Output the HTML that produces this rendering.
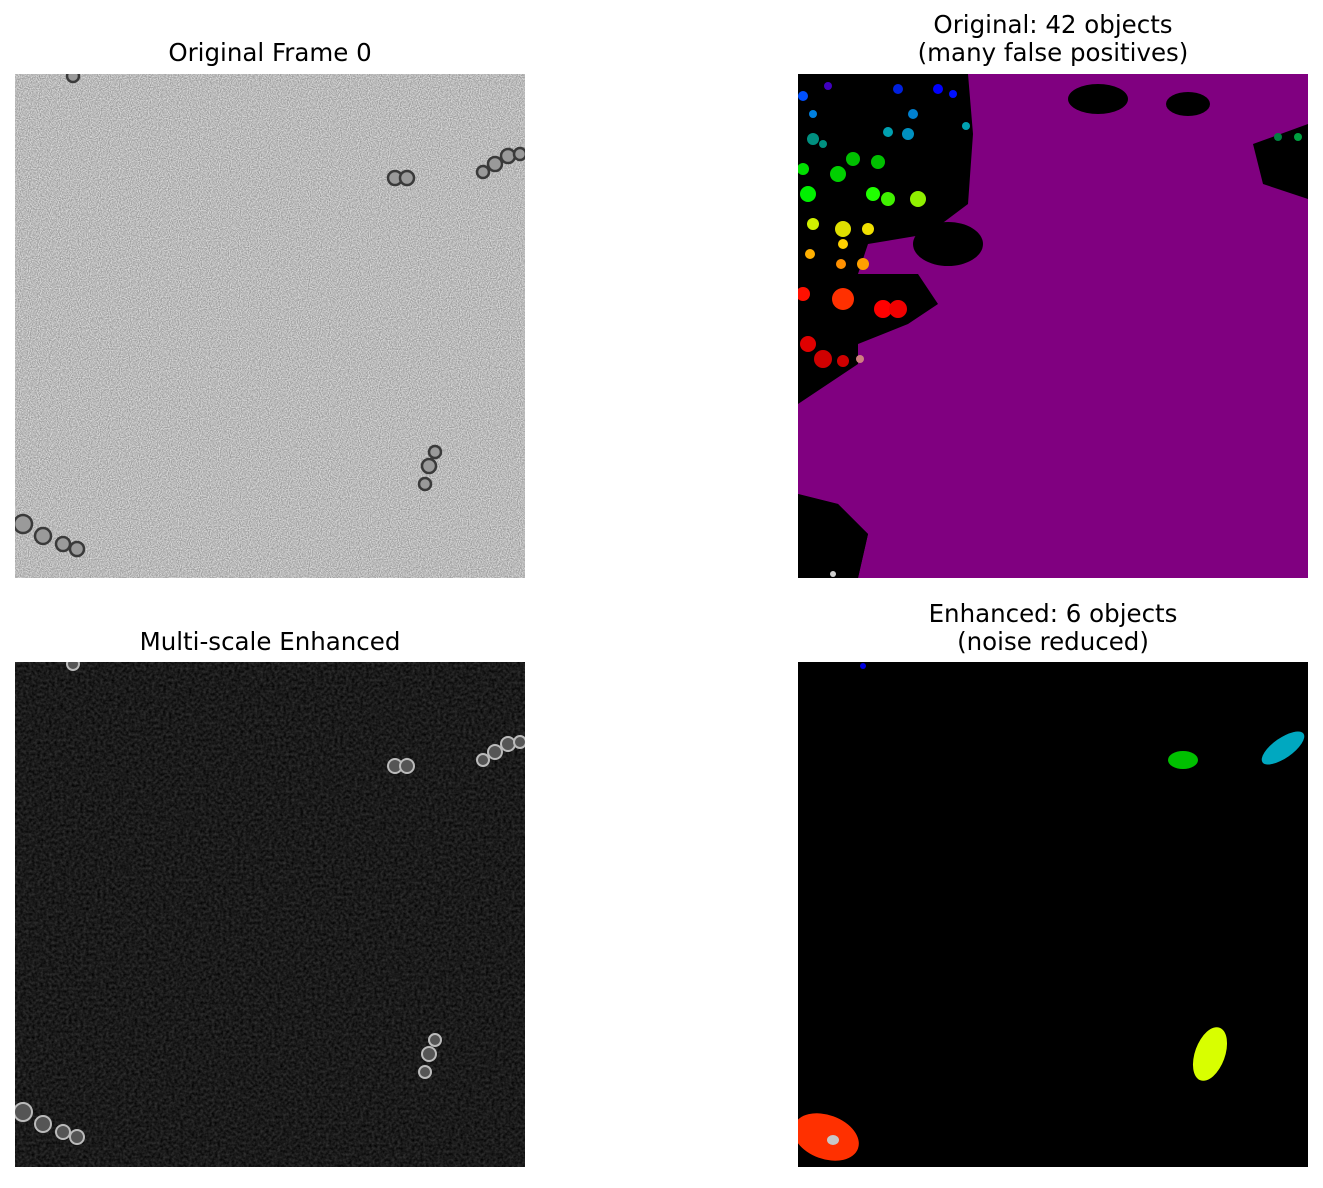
<!DOCTYPE html>
<html><head><meta charset="utf-8"><style>
body{margin:0;background:#fff;width:1323px;height:1183px;overflow:hidden}
svg text{font-family:"DejaVu Sans","Liberation Sans",sans-serif;font-size:24.5px;fill:#000}
</style></head><body>
<svg id="fig" width="1323" height="1183" viewBox="0 0 1323 1183">
<defs>
<filter id="noiseLight" x="0" y="0" width="100%" height="100%" color-interpolation-filters="sRGB">
<feTurbulence type="fractalNoise" baseFrequency="0.9" numOctaves="1" seed="3"/>
<feColorMatrix type="matrix" values="0.6 0 0 0 0.43  0.6 0 0 0 0.43  0.6 0 0 0 0.43  0 0 0 0 1"/>
</filter>
<filter id="noiseDark" x="0" y="0" width="100%" height="100%" color-interpolation-filters="sRGB">
<feTurbulence type="fractalNoise" baseFrequency="0.35" numOctaves="2" seed="5"/>
<feColorMatrix type="matrix" values="0.25 0 0 0 -0.02  0.25 0 0 0 -0.02  0.25 0 0 0 -0.02  0 0 0 0 1"/>
</filter>
<clipPath id="clipP"><rect width="510" height="505"/></clipPath>
</defs>
<text x="270" y="61" text-anchor="middle">Original Frame 0</text>
<text x="1053" y="33" text-anchor="middle">Original: 42 objects</text>
<text x="1053" y="61" text-anchor="middle">(many false positives)</text>
<text x="270" y="650" text-anchor="middle">Multi-scale Enhanced</text>
<text x="1053" y="622" text-anchor="middle">Enhanced: 6 objects</text>
<text x="1053" y="650" text-anchor="middle">(noise reduced)</text>

<g transform="translate(15,74)" clip-path="url(#clipP)">
<rect width="510" height="504" fill="#bbb"/>
<rect width="510" height="504" filter="url(#noiseLight)"/>
<g id="cells1"></g>
</g>
<g transform="translate(798,74)" clip-path="url(#clipP)">
<rect width="510" height="504" fill="#000"/>
<polygon fill="#800080" points="170,0 510,0 510,504 60,504 70,460 40,430 0,420 0,330 30,310 60,290 60,270 110,250 140,230 120,200 60,200 70,170 130,160 170,130 175,60"/>
<g fill="#000"><ellipse cx="300" cy="25" rx="30" ry="15"/><ellipse cx="390" cy="30" rx="22" ry="12"/><polygon points="455,70 510,50 510,125 465,110"/><ellipse cx="150" cy="170" rx="35" ry="22"/><polygon points="0,420 40,430 70,460 60,504 0,504"/></g>
<g id="blobs2"></g>
</g>
<g transform="translate(15,662)" clip-path="url(#clipP)">
<rect width="510" height="505" fill="#1a1a1a"/>
<rect width="510" height="505" filter="url(#noiseDark)"/>
<g id="cells3"></g>
</g>
<g transform="translate(798,662)" clip-path="url(#clipP)">
<rect width="510" height="505" fill="#000"/>
<g id="blobs4"></g>
</g>
</svg>
<script>
const NS="http://www.w3.org/2000/svg";
const cellX=[380,392,468,480,493,505,420,414,410,8,28,48,62,58];
const cellY=[104,104,98,90,82,80,378,392,410,450,462,470,475,2];
const cellR=[7,7,6,7,7,6,6,7,6,9,8,7,7,6];
const b2x=[5,30,100,140,155,15,115,90,110,168,15,25,55,80,5,40,10,75,90,120,15,45,45,70,12,43,65,45,5,85,100,10,25,45,62,35,480,500];
const b2y=[22,12,15,15,20,40,40,58,60,52,65,70,85,88,95,100,120,120,125,125,150,155,170,155,180,190,190,225,220,235,235,270,285,287,285,500,63,63];
const b2r=[5,4,5,5,4,4,5,5,6,4,6,4,7,7,6,8,8,7,7,8,6,8,5,6,5,5,6,11,7,9,9,8,9,6,4,3,4,4];
const b2c=["#0050ff","#4000c0","#0020e0","#0000ff","#0010ff","#0080e0","#0080d0","#00a0b0","#0090c0","#00a0b0","#009080","#009080","#00c000","#00c000","#00e000","#00d000","#00f000","#20ff00","#40f000","#90f000","#d0f000","#e0e000","#ffd000","#f0e000","#ffb000","#ff9000","#ffa000","#ff3000","#ff1000","#ff0000","#f00000","#e00000","#d00000","#d00000","#d08080","#d0d0d0","#008040","#00a040"];
const b4x=[65,385,485,412,28,35];
const b4y=[4,98,86,392,475,478];
const b4rx=[3,15,25,15,34,6];
const b4ry=[3,9,10,28,22,5];
const b4rot=[0,0,-35,20,20,0];
const b4c=["#0000e0","#00c000","#00a8c0","#d8ff00","#ff3000","#c8c8c8"];
function draw(){
  const c1=document.getElementById('cells1'),c3=document.getElementById('cells3');
  cellX.forEach((x,i)=>{
    const a=document.createElementNS(NS,'circle');
    
    
    a.setAttribute('cx',x);a.setAttribute('cy',cellY[i]);a.setAttribute('r',cellR[i]);
    a.setAttribute('fill','#9a9a9a');a.setAttribute('stroke','#3a3a3a');a.setAttribute('stroke-width','2.5');
    c1.appendChild(a);
    const b=document.createElementNS(NS,'circle');
    
    
    b.setAttribute('cx',x);b.setAttribute('cy',cellY[i]);b.setAttribute('r',cellR[i]);
    b.setAttribute('fill','#555');b.setAttribute('stroke','#bbb');b.setAttribute('stroke-width','2');
    c3.appendChild(b);
  });
  const g2=document.getElementById('blobs2');
  b2x.forEach((x,i)=>{
    const e=document.createElementNS(NS,'circle');
    
    
    e.setAttribute('cx',x);e.setAttribute('cy',b2y[i]);e.setAttribute('r',b2r[i]);e.setAttribute('fill',b2c[i]);
    g2.appendChild(e);
  });
  const g4=document.getElementById('blobs4');
  b4x.forEach((x,i)=>{
    const e=document.createElementNS(NS,'ellipse');
    
    
    e.setAttribute('cx',x);e.setAttribute('cy',b4y[i]);e.setAttribute('rx',b4rx[i]);e.setAttribute('ry',b4ry[i]);
    e.setAttribute('transform','rotate('+b4rot[i]+' '+x+' '+b4y[i]+')');
    e.setAttribute('fill',b4c[i]);
    g4.appendChild(e);
  });
}
draw();
</script>
</body></html>
